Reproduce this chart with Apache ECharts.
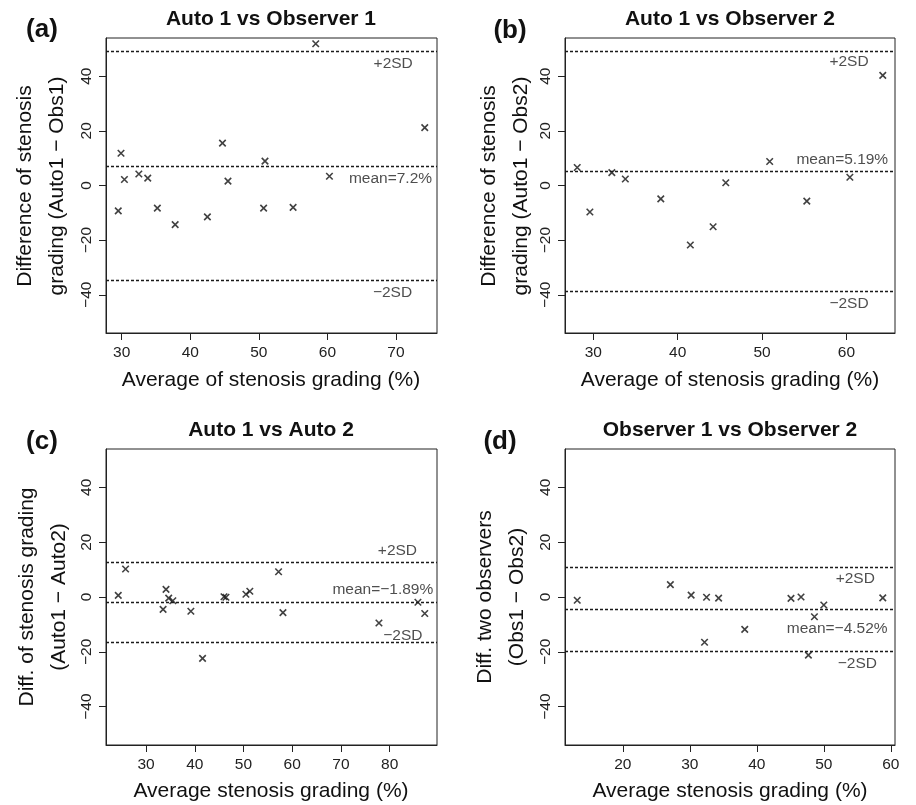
<!DOCTYPE html>
<html>
<head>
<meta charset="utf-8">
<script src="https://cdn.jsdelivr.net/npm/echarts@6/dist/echarts.min.js"></script>
<style>html,body{margin:0;padding:0;background:#fff;}#c{width:916px;height:805px;}</style>
</head>
<body>
<div id="c"></div>
<script>
// ---------- data ----------
const panelTags = ['(a)', '(b)', '(c)', '(d)'];
const panelTitles = ['Auto 1 vs Observer 1', 'Auto 1 vs Observer 2', 'Auto 1 vs Auto 2', 'Observer 1 vs Observer 2'];
const yNames = [
  'Difference of stenosis\ngrading (Auto1 \u2212 Obs1)',
  'Difference of stenosis\ngrading (Auto1 \u2212 Obs2)',
  'Diff. of stenosis grading\n(Auto1 \u2212 Auto2)',
  'Diff. two observers\n(Obs1 \u2212 Obs2)'
];
const xNames = ['Average of stenosis grading (%)', 'Average of stenosis grading (%)',
  'Average stenosis grading (%)', 'Average stenosis grading (%)'];

const yTicks = [-40, -20, 0, 20, 40];
const yLimits = [-54, 54];
const xTicksA = [30, 40, 50, 60, 70];
const xTicksB = [30, 40, 50, 60];
const xTicksC = [30, 40, 50, 60, 70, 80];
const xTicksD = [20, 30, 40, 50, 60];

const avgA = [29.5, 29.9, 30.4, 32.5, 33.8, 35.2, 37.8, 42.5, 44.7, 45.5, 50.7, 50.9, 55.0, 58.3, 60.3, 74.2];
const diffA = [-9.3, 11.8, 2.2, 4.2, 2.7, -8.3, -14.3, -11.5, 15.5, 1.6, -8.3, 8.9, -8.0, 51.9, 3.4, 21.2];

const avgB = [28.1, 29.6, 32.2, 33.8, 38.0, 41.5, 44.2, 45.7, 50.9, 55.3, 60.4, 64.3];
const diffB = [6.6, -9.7, 4.7, 2.4, -4.9, -21.8, -15.1, 1.0, 8.8, -5.7, 3.0, 40.3];

const avgC = [24.3, 25.8, 33.5, 34.1, 34.65, 35.5, 39.2, 41.6, 46.0, 46.4, 50.5, 51.3, 57.2, 58.1, 77.8, 85.8, 87.2];
const diffC = [0.6, 10.2, -4.5, 2.8, -0.4, -1.35, -5.2, -22.4, 0.1, -0.1, 1.0, 2.1, 9.2, -5.7, -9.5, -1.9, -6.0];

const avgD = [13.2, 27.1, 30.2, 32.2, 32.5, 34.3, 38.2, 45.1, 46.6, 47.7, 48.6, 50.0, 58.8];
const diffD = [-1.2, 4.5, 0.7, -16.5, -0.1, -0.4, -11.8, -0.5, 0.0, -21.2, -7.2, -2.9, -0.3];

// reference lines: [+2SD, mean, -2SD]
const linesA = [49.3, 7.2, -34.8];
const linesB = [49.1, 5.19, -38.6];
const linesC = [12.8, -1.89, -16.5];
const linesD = [10.7, -4.52, -19.7];
const lineTextA = ['+2SD', 'mean=7.2%', '\u22122SD'];
const lineTextB = ['+2SD', 'mean=5.19%', '\u22122SD'];
const lineTextC = ['+2SD', 'mean=\u22121.89%', '\u22122SD'];
const lineTextD = ['+2SD', 'mean=\u22124.52%', '\u22122SD'];

// ---------- layout (not data) ----------
const FONT = '"Liberation Sans", Arial, Helvetica, sans-serif';
const grids = [
  {left: 106, top: 38, width: 331, height: 295},
  {left: 565, top: 38, width: 330, height: 295},
  {left: 106, top: 449, width: 331, height: 296},
  {left: 565, top: 449, width: 330, height: 296}
];
// label anchor x (data units) and pixel vertical offset for each line label
const labelPlace = [
  {x: [69.6, 69.2, 69.5], dy: [13, 13, 12]},
  {x: [60.3, 59.5, 60.3], dy: [10, -12, 13]},
  {x: [81.6, 78.6, 82.7], dy: [-11, -12, -7]},
  {x: [54.7, 52.0, 55.0], dy: [11, 19, 13]}
];
const titlePos = [[271, 19], [730, 19], [271, 430], [730, 430]];
const tagPos = [[42, 30], [510, 31], [42, 442], [500, 442]];
const yNamePos = [[41, 186], [505, 186], [43, 597], [501, 597]];
const xNamePos = [[271, 380], [730, 380], [271, 791], [730, 791]];

const panels = [
  {avg: avgA, diff: diffA, ticks: xTicksA, lines: linesA, texts: lineTextA},
  {avg: avgB, diff: diffB, ticks: xTicksB, lines: linesB, texts: lineTextB},
  {avg: avgC, diff: diffC, ticks: xTicksC, lines: linesC, texts: lineTextC},
  {avg: avgD, diff: diffD, ticks: xTicksD, lines: linesD, texts: lineTextD}
];

const xAxes = [], yAxes = [], series = [], graphics = [];
panels.forEach((p, i) => {
  const lo = Math.min(...p.avg), hi = Math.max(...p.avg), r = hi - lo;
  xAxes.push({
    type: 'value', gridIndex: i, position: 'bottom', min: lo - 0.04 * r, max: hi + 0.04 * r,
    axisLine: {show: true, onZero: false, lineStyle: {color: '#222', width: 1}},
    axisTick: {show: true, length: 7, customValues: p.ticks, lineStyle: {color: '#222', width: 1}},
    axisLabel: {customValues: p.ticks, margin: 12, fontSize: 15.5, color: '#222', fontFamily: FONT},
    splitLine: {show: false}
  });
  yAxes.push({
    type: 'value', gridIndex: i, position: 'left', min: yLimits[0], max: yLimits[1],
    axisLine: {show: true, onZero: false, lineStyle: {color: '#222', width: 1}},
    axisTick: {show: true, length: 7, customValues: yTicks, lineStyle: {color: '#222', width: 1}},
    axisLabel: {customValues: yTicks, rotate: 90, margin: 11, fontSize: 15.5, color: '#222', fontFamily: FONT,
      formatter: v => (v < 0 ? '\u2212' + Math.abs(v) : String(v))},
    splitLine: {show: false}
  });
  series.push({
    type: 'scatter', xAxisIndex: i, yAxisIndex: i,
    data: p.avg.map((x, k) => [x, p.diff[k]]),
    symbol: 'path://M0,0L10,10M10,0L0,10', symbolSize: 6.5,
    itemStyle: {color: 'none', borderColor: '#111', borderWidth: 1.6},
    silent: true,
    markLine: {
      silent: true, symbol: 'none', animation: false,
      label: {show: false},
      lineStyle: {color: '#1a1a1a', type: [3, 2], width: 1.3},
      data: p.lines.map(v => ({yAxis: v}))
    }
  });
  series.push({
    type: 'scatter', xAxisIndex: i, yAxisIndex: i, silent: true,
    symbolSize: 1, itemStyle: {color: 'rgba(0,0,0,0)'},
    data: p.lines.map((v, k) => ({
      value: [labelPlace[i].x[k], v],
      label: {show: true, position: 'inside', offset: [0, labelPlace[i].dy[k]],
        formatter: p.texts[k], fontSize: 15.5, color: '#222', fontFamily: FONT}
    }))
  });
  graphics.push({type: 'text', x: titlePos[i][0], y: titlePos[i][1], silent: true,
    style: {text: panelTitles[i], font: 'bold 21px ' + FONT, fill: '#111', textAlign: 'center', textVerticalAlign: 'middle'}});
  graphics.push({type: 'text', x: tagPos[i][0], y: tagPos[i][1], silent: true,
    style: {text: panelTags[i], font: 'bold 26px ' + FONT, fill: '#111', textAlign: 'center', textVerticalAlign: 'middle'}});
  graphics.push({type: 'text', x: yNamePos[i][0], y: yNamePos[i][1], rotation: Math.PI / 2, silent: true,
    style: {text: yNames[i], font: '21px ' + FONT, fill: '#111', textAlign: 'center', textVerticalAlign: 'middle', lineHeight: 32}});
  graphics.push({type: 'text', x: xNamePos[i][0], y: xNamePos[i][1], silent: true,
    style: {text: xNames[i], font: '21px ' + FONT, fill: '#111', textAlign: 'center', textVerticalAlign: 'middle'}});
});

const chart = echarts.init(document.getElementById('c'), null, {renderer: 'canvas'});
chart.setOption({
  animation: false,
  backgroundColor: '#fff',
  grid: grids.map(g => Object.assign({show: true, borderColor: '#222', borderWidth: 1, backgroundColor: 'transparent'}, g)),
  xAxis: xAxes,
  yAxis: yAxes,
  series: series,
  graphic: graphics
});
</script>
</body>
</html>
